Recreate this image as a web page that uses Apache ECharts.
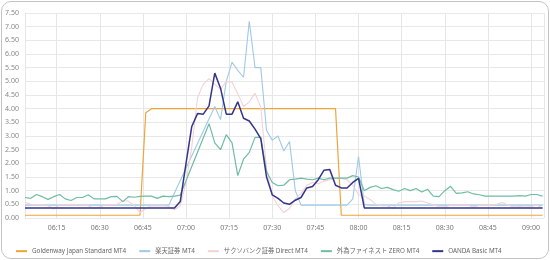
<!DOCTYPE html>
<html>
<head>
<meta charset="utf-8">
<script src="https://cdn.jsdelivr.net/npm/echarts@6/dist/echarts.min.js"></script>
<style>
  html, body { margin: 0; padding: 0; background: #fff; }
  #wrap { position: relative; width: 550px; height: 260px; }
  #chart { position: absolute; left: 0; top: 0; width: 550px; height: 260px; }
  #frame {
    position: absolute; left: 1px; top: 1px; width: 546px; height: 256px;
    border: 1.5px solid #c4c4c4; border-radius: 10px; pointer-events: none;
  }
</style>
</head>
<body>
<div id="wrap">
  <div id="chart"></div>
  <div id="frame"></div>
</div>
<script>
// 2分ごとの時刻 (06:04 - 09:04)
const times = [
  "06:04", "06:06", "06:08", "06:10", "06:12", "06:14", "06:16", "06:18", "06:20", "06:22",
  "06:24", "06:26", "06:28", "06:30", "06:32", "06:34", "06:36", "06:38", "06:40", "06:42",
  "06:44", "06:46", "06:48", "06:50", "06:52", "06:54", "06:56", "06:58", "07:00", "07:02",
  "07:04", "07:06", "07:08", "07:10", "07:12", "07:14", "07:16", "07:18", "07:20", "07:22",
  "07:24", "07:26", "07:28", "07:30", "07:32", "07:34", "07:36", "07:38", "07:40", "07:42",
  "07:44", "07:46", "07:48", "07:50", "07:52", "07:54", "07:56", "07:58", "08:00", "08:02",
  "08:04", "08:06", "08:08", "08:10", "08:12", "08:14", "08:16", "08:18", "08:20", "08:22",
  "08:24", "08:26", "08:28", "08:30", "08:32", "08:34", "08:36", "08:38", "08:40", "08:42",
  "08:44", "08:46", "08:48", "08:50", "08:52", "08:54", "08:56", "08:58", "09:00", "09:02",
  "09:04"
];

const seriesNames = [
  "Goldenway Japan Standard MT4",
  "楽天証券 MT4",
  "サクソバンク証券 Direct MT4",
  "外為ファイネスト ZERO MT4",
  "OANDA Basic MT4"
];
const seriesColors = ["#eda53a", "#9fc9e6", "#f3d2d4", "#6fbca4", "#34348a"];

const goldenway = [
  0.1, 0.1, 0.1, 0.1, 0.1, 0.1, 0.1, 0.1, 0.1, 0.1,
  0.1, 0.1, 0.1, 0.1, 0.1, 0.1, 0.1, 0.1, 0.1, 0.1,
  0.1, 3.85, 4.0, 4.0, 4.0, 4.0, 4.0, 4.0, 4.0, 4.0,
  4.0, 4.0, 4.0, 4.0, 4.0, 4.0, 4.0, 4.0, 4.0, 4.0,
  4.0, 4.0, 4.0, 4.0, 4.0, 4.0, 4.0, 4.0, 4.0, 4.0,
  4.0, 4.0, 4.0, 4.0, 4.0, 0.1, 0.1, 0.1, 0.1, 0.1,
  0.1, 0.1, 0.1, 0.1, 0.1, 0.1, 0.1, 0.1, 0.1, 0.1,
  0.1, 0.1, 0.1, 0.1, 0.1, 0.1, 0.1, 0.1, 0.1, 0.1,
  0.1, 0.1, 0.1, 0.1, 0.1, 0.1, 0.1, 0.1, 0.1, 0.1,
  0.1
];

const rakuten = [
  0.47, 0.47, 0.47, 0.47, 0.47, 0.47, 0.47, 0.47, 0.47, 0.47,
  0.47, 0.47, 0.47, 0.47, 0.47, 0.47, 0.47, 0.47, 0.47, 0.47,
  0.47, 0.47, 0.47, 0.47, 0.47, 0.47, null, null, null, null,
  null, null, null, 4.08, 3.6, 5.0, 5.7, 5.4, 5.15, 7.2,
  5.5, 5.5, 3.2, 2.85, 3.0, 2.45, 2.8, 1.0, 0.47, 0.47,
  0.47, 0.47, 0.47, 0.47, 0.47, 0.47, 0.47, 0.7, 2.25, 0.49,
  0.47, 0.47, 0.47, 0.47, 0.47, 0.47, 0.47, 0.47, 0.47, 0.47,
  0.47, 0.47, 0.47, 0.47, 0.47, 0.47, 0.47, 0.47, 0.47, 0.47,
  0.47, 0.47, 0.47, 0.47, 0.47, 0.47, 0.47, 0.47, 0.47, 0.47,
  0.47
];

const saxo = [
  0.58, 0.5, 0.48, 0.48, 0.45, 0.33, 0.48, 0.48, 0.48, 0.48,
  0.48, 0.45, 0.35, 0.4, 0.48, 0.48, 0.5, 0.62, 0.62, 0.45,
  0.2, 0.35, 0.45, 0.44, 0.45, 0.42, 0.3, 0.45, 1.3, 2.6,
  4.4, 4.9, 5.1, 4.9, 4.7, 5.0, 4.97, 4.55, 4.08, 4.25,
  4.57, 4.05, 1.8, 0.8, 0.45, 0.2, 0.35, 0.7, 0.9, 1.2,
  1.3, 1.25, 1.35, 1.4, 1.45, 1.45, 1.4, 1.2, 0.85, 0.8,
  0.68, 0.5, 0.45, 0.45, 0.35, 0.55, 0.6, 0.6, 0.6, 0.62,
  0.55, 0.48, 0.42, 0.4, 0.47, 0.47, 0.47, 0.47, 0.4, 0.47,
  0.47, 0.47, 0.5, 0.57, 0.47, 0.4, 0.42, 0.4, 0.42, 0.47,
  0.37
];

const gaitame = [
  0.75, 0.72, 0.86, 0.78, 0.68, 0.78, 0.86, 0.7, 0.64, 0.75,
  0.75, 0.85, 0.7, 0.7, 0.7, 0.78, 0.79, 0.6, 0.78, 0.76,
  0.79, 0.8, 0.8, 0.72, 0.8, 0.78, 0.8, 0.84, null, null,
  null, null, 3.45, 2.75, 2.5, 3.05, 2.75, 1.55, 2.15, 2.4,
  2.95, 2.95, 1.7, 1.3, 1.18, 1.2, 1.4, 1.42, 1.46, 1.42,
  1.4, 1.46, 1.4, 1.46, 1.46, 1.46, 1.46, 1.55, 1.5, 1.0,
  1.12, 1.18, 1.08, 1.12, 1.04, 0.98, 1.08, 1.0, 1.08, 0.95,
  1.05, 0.8, 0.78, 1.0, 1.16, 0.9, 0.92, 0.96, 0.88, 0.85,
  0.8, 0.8, 0.8, 0.8, 0.8, 0.8, 0.82, 0.8, 0.86, 0.86,
  0.8
];

const oanda = [
  0.37, 0.37, 0.37, 0.37, 0.37, 0.37, 0.37, 0.37, 0.37, 0.37,
  0.37, 0.37, 0.37, 0.37, 0.37, 0.37, 0.37, 0.37, 0.37, 0.37,
  0.37, 0.37, 0.37, 0.37, 0.37, 0.37, 0.37, 0.6, 2.0, 3.35,
  3.82, 3.8, 4.1, 5.3, 4.75, 3.8, 3.8, 4.25, 3.65, 3.55,
  3.25, 2.9, 1.5, 0.85, 0.72, 0.55, 0.5, 0.65, 0.75, 1.1,
  1.15, 1.4, 1.75, 1.77, 1.2, 1.1, 1.1, 1.3, 1.45, 0.37,
  0.37, 0.37, 0.37, 0.37, 0.37, 0.37, 0.37, 0.37, 0.37, 0.37,
  0.37, 0.37, 0.37, 0.37, 0.37, 0.37, 0.37, 0.37, 0.37, 0.37,
  0.37, 0.37, 0.37, 0.37, 0.37, 0.37, 0.37, 0.37, 0.37, 0.37,
  0.37
];

const allValues = [goldenway, rakuten, saxo, gaitame, oanda];
const lineWidths = [1.2, 1.1, 1.1, 1.2, 1.5];

function toTs(hm) {
  const parts = hm.split(":");
  return new Date(2024, 0, 15, +parts[0], +parts[1]).getTime();
}
function pad(n) {
  return (n < 10 ? "0" : "") + n;
}

const xs = times.map(toTs);
const font = '"Noto Sans", "Noto Sans CJK JP", sans-serif';

const series = allValues.map((vals, k) => ({
  name: seriesNames[k],
  type: "line",
  showSymbol: false,
  connectNulls: true,
  lineStyle: { width: lineWidths[k], color: seriesColors[k] },
  itemStyle: { color: seriesColors[k] },
  data: vals.map((v, i) => [xs[i], v === null ? "-" : v])
}));

const chart = echarts.init(document.getElementById("chart"));
chart.setOption({
  animation: false,
  color: seriesColors,
  textStyle: { fontFamily: font },
  grid: { left: 25, right: 6, top: 13, bottom: 42 },
  legend: {
    left: 11,
    top: 243,
    icon: "rect",
    itemWidth: 11,
    itemHeight: 2,
    itemGap: 13,
    textStyle: { fontSize: 6.3, color: "#666", fontFamily: font },
    data: seriesNames
  },
  xAxis: {
    type: "time",
    min: xs[0],
    max: xs[xs.length - 1] + 30000,
    // 15分刻みになるように (内部で 15 < x <= 20 分 → 15分)
    minInterval: 18 * 60 * 1000,
    maxInterval: 18 * 60 * 1000,
    axisLine: { show: false },
    axisTick: { show: false },
    splitLine: { show: true, lineStyle: { color: "#e6e6e6", width: 1 } },
    axisLabel: {
      fontSize: 7,
      color: "#777",
      margin: 7,
      showMinLabel: false,
      showMaxLabel: false,
      formatter: function (val) {
        const d = new Date(val);
        return pad(d.getHours()) + ":" + pad(d.getMinutes());
      }
    }
  },
  yAxis: {
    type: "value",
    min: 0,
    max: 7.5,
    interval: 0.5,
    axisLine: { show: false },
    axisTick: { show: false },
    splitLine: { lineStyle: { color: "#e8e8e8", width: 1 } },
    axisLabel: {
      fontSize: 7,
      color: "#888",
      margin: 6,
      formatter: function (v) {
        return v.toFixed(2);
      }
    }
  },
  series: series
});
</script>
</body>
</html>
